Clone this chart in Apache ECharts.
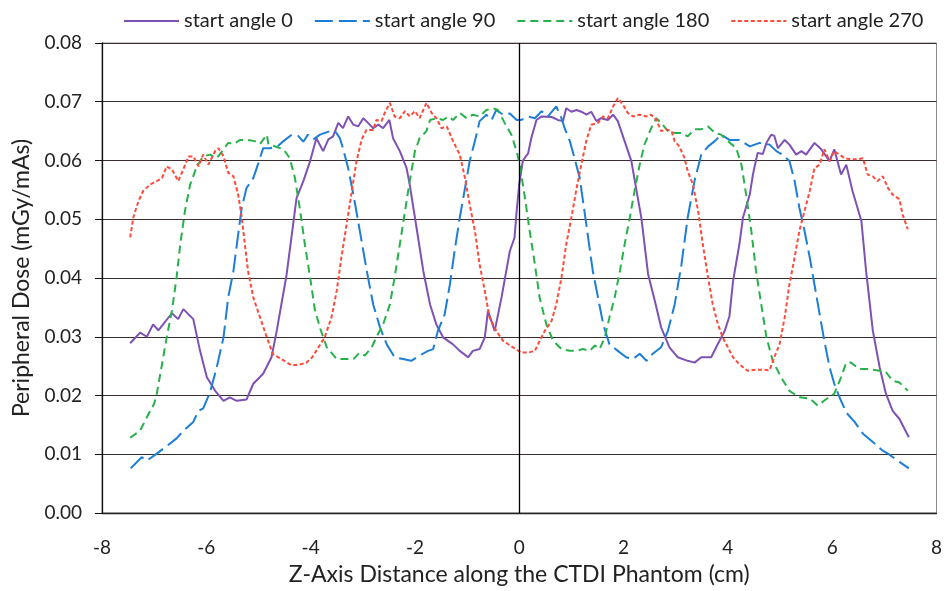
<!DOCTYPE html>
<html>
<head>
<meta charset="utf-8">
<script src="https://cdn.jsdelivr.net/npm/echarts@6/dist/echarts.min.js"></script>
<style>
html,body{margin:0;padding:0;background:#fff;}
#chart{width:945px;height:591px;}
</style>
</head>
<body>
<div id="chart"></div>
<script>
var seriesNames = ['start angle 0', 'start angle 90', 'start angle 180', 'start angle 270'];
var xTicks = [-8, -6, -4, -2, 0, 2, 4, 6, 8];
var yTicks = [0, 0.01, 0.02, 0.03, 0.04, 0.05, 0.06, 0.07, 0.08];

var angle0X = [-7.46,-7.27,-7.14,-7.02,-6.92,-6.66,-6.54,-6.44,-6.25,-6.12,-5.99,-5.83,-5.67,-5.55,-5.42,-5.23,-5.10,-4.91,-4.75,-4.65,-4.46,-4.27,-4.14,-4.01,-3.89,-3.76,-3.66,-3.57,-3.47,-3.38,-3.28,-3.18,-3.09,-2.99,-2.90,-2.80,-2.70,-2.61,-2.49,-2.42,-2.29,-2.16,-2.10,-1.97,-1.84,-1.71,-1.59,-1.46,-1.27,-1.14,-0.98,-0.89,-0.76,-0.66,-0.60,-0.47,-0.34,-0.18,-0.09,-0.05,0.00,0.07,0.17,0.23,0.33,0.43,0.62,0.74,0.84,0.90,1.00,1.10,1.19,1.29,1.38,1.48,1.57,1.70,1.80,1.89,2.02,2.15,2.25,2.34,2.47,2.60,2.72,2.88,3.04,3.23,3.36,3.49,3.68,3.81,3.94,4.03,4.10,4.22,4.29,4.42,4.48,4.57,4.67,4.74,4.83,4.89,4.96,5.09,5.18,5.31,5.41,5.50,5.66,5.79,5.95,6.04,6.17,6.27,6.39,6.56,6.65,6.78,6.91,7.03,7.16,7.29,7.47];
var angle0Y = [0.0289,0.0307,0.0300,0.0321,0.0311,0.0340,0.0330,0.0347,0.0330,0.0276,0.0231,0.0208,0.0191,0.0197,0.0191,0.0193,0.0220,0.0237,0.0265,0.0310,0.0406,0.0536,0.0565,0.0599,0.0638,0.0616,0.0636,0.0641,0.0664,0.0655,0.0675,0.0661,0.0658,0.0672,0.0664,0.0655,0.0661,0.0655,0.0669,0.0638,0.0616,0.0587,0.0559,0.0486,0.0412,0.0355,0.0321,0.0299,0.0287,0.0276,0.0265,0.0276,0.0279,0.0299,0.0344,0.0310,0.0367,0.0446,0.0469,0.0514,0.0560,0.0600,0.0612,0.0638,0.0669,0.0675,0.0674,0.0669,0.0667,0.0689,0.0683,0.0686,0.0683,0.0678,0.0683,0.0667,0.0672,0.0669,0.0678,0.0667,0.0633,0.0599,0.0548,0.0503,0.0407,0.0361,0.0316,0.0282,0.0265,0.0259,0.0256,0.0265,0.0265,0.0288,0.0310,0.0335,0.0395,0.0457,0.0503,0.0542,0.0576,0.0613,0.0611,0.0630,0.0644,0.0642,0.0621,0.0635,0.0627,0.0610,0.0616,0.0610,0.0630,0.0619,0.0599,0.0619,0.0576,0.0593,0.0548,0.0497,0.0412,0.0310,0.0248,0.0203,0.0174,0.0160,0.0129];

var angle90X = [-7.45,-7.24,-7.14,-6.95,-6.57,-6.44,-6.25,-6.15,-6.06,-5.93,-5.80,-5.67,-5.58,-5.48,-5.39,-5.32,-5.23,-5.10,-5.00,-4.91,-4.78,-4.65,-4.52,-4.36,-4.24,-4.14,-4.05,-3.95,-3.82,-3.63,-3.53,-3.44,-3.38,-3.28,-3.18,-3.09,-2.99,-2.90,-2.80,-2.67,-2.54,-2.39,-2.23,-2.07,-1.91,-1.75,-1.65,-1.56,-1.43,-1.33,-1.24,-1.14,-1.04,-0.95,-0.85,-0.76,-0.63,-0.53,-0.44,-0.31,-0.18,-0.05,0.04,0.17,0.30,0.43,0.55,0.71,0.81,0.87,0.97,1.06,1.16,1.25,1.32,1.41,1.51,1.61,1.73,1.89,2.05,2.18,2.31,2.44,2.56,2.72,2.85,2.98,3.11,3.23,3.36,3.49,3.62,3.75,3.87,4.03,4.22,4.42,4.61,4.80,4.93,5.05,5.18,5.28,5.37,5.47,5.57,5.66,5.76,5.85,5.95,6.04,6.14,6.27,6.43,6.59,6.78,6.97,7.07,7.29,7.47];
var angle90Y = [0.0076,0.0095,0.0089,0.0101,0.0127,0.0140,0.0155,0.0174,0.0178,0.0205,0.0248,0.0299,0.0367,0.0412,0.0474,0.0520,0.0553,0.0570,0.0596,0.0621,0.0621,0.0623,0.0633,0.0644,0.0642,0.0632,0.0644,0.0636,0.0644,0.0650,0.0650,0.0638,0.0621,0.0587,0.0542,0.0497,0.0446,0.0401,0.0355,0.0316,0.0287,0.0265,0.0262,0.0259,0.0268,0.0276,0.0279,0.0310,0.0338,0.0389,0.0446,0.0503,0.0553,0.0599,0.0633,0.0667,0.0678,0.0669,0.0686,0.0678,0.0680,0.0669,0.0669,0.0675,0.0672,0.0684,0.0675,0.0692,0.0672,0.0655,0.0633,0.0604,0.0570,0.0514,0.0469,0.0412,0.0367,0.0321,0.0287,0.0276,0.0265,0.0262,0.0271,0.0259,0.0271,0.0282,0.0310,0.0355,0.0423,0.0503,0.0565,0.0610,0.0624,0.0633,0.0644,0.0635,0.0635,0.0624,0.0630,0.0627,0.0616,0.0610,0.0599,0.0565,0.0520,0.0480,0.0435,0.0389,0.0338,0.0293,0.0248,0.0220,0.0197,0.0171,0.0155,0.0135,0.0121,0.0106,0.0101,0.0087,0.0076];

var angle180X = [-7.46,-7.27,-7.14,-7.00,-6.95,-6.85,-6.76,-6.66,-6.57,-6.50,-6.41,-6.31,-6.18,-6.06,-5.93,-5.80,-5.67,-5.58,-5.48,-5.35,-5.20,-5.07,-4.97,-4.84,-4.81,-4.65,-4.52,-4.40,-4.30,-4.20,-4.11,-4.01,-3.92,-3.82,-3.69,-3.50,-3.31,-3.18,-3.06,-2.96,-2.83,-2.74,-2.61,-2.48,-2.39,-2.29,-2.19,-2.10,-2.00,-1.91,-1.78,-1.71,-1.59,-1.46,-1.36,-1.27,-1.14,-1.01,-0.89,-0.76,-0.63,-0.50,-0.41,-0.28,-0.15,-0.09,-0.05,0.01,0.11,0.20,0.30,0.39,0.52,0.65,0.81,0.97,1.10,1.22,1.35,1.45,1.54,1.64,1.73,1.83,1.93,2.02,2.12,2.21,2.31,2.40,2.53,2.63,2.72,2.85,2.98,3.11,3.23,3.36,3.49,3.62,3.75,3.87,4.00,4.16,4.26,4.35,4.45,4.54,4.64,4.74,4.86,5.02,5.18,5.37,5.57,5.72,5.89,6.04,6.17,6.27,6.36,6.52,6.71,6.91,7.03,7.16,7.29,7.45];
var angle180Y = [0.0128,0.0140,0.0163,0.0186,0.0203,0.0253,0.0299,0.0344,0.0401,0.0457,0.0514,0.0559,0.0590,0.0607,0.0610,0.0604,0.0619,0.0630,0.0628,0.0635,0.0635,0.0633,0.0628,0.0644,0.0628,0.0623,0.0619,0.0604,0.0570,0.0514,0.0457,0.0401,0.0347,0.0315,0.0282,0.0262,0.0262,0.0262,0.0273,0.0268,0.0282,0.0299,0.0321,0.0355,0.0401,0.0457,0.0514,0.0565,0.0616,0.0638,0.0650,0.0669,0.0672,0.0669,0.0675,0.0669,0.0681,0.0672,0.0678,0.0675,0.0686,0.0689,0.0686,0.0664,0.0644,0.0627,0.0616,0.0593,0.0536,0.0480,0.0423,0.0367,0.0321,0.0293,0.0279,0.0276,0.0276,0.0279,0.0276,0.0285,0.0279,0.0299,0.0333,0.0367,0.0412,0.0457,0.0503,0.0548,0.0593,0.0627,0.0655,0.0672,0.0664,0.0650,0.0647,0.0647,0.0641,0.0653,0.0653,0.0658,0.0647,0.0644,0.0633,0.0621,0.0593,0.0542,0.0480,0.0412,0.0355,0.0299,0.0259,0.0231,0.0208,0.0197,0.0195,0.0183,0.0194,0.0203,0.0231,0.0256,0.0256,0.0245,0.0245,0.0242,0.0240,0.0225,0.0222,0.0208];

var angle270X = [-7.46,-7.40,-7.30,-7.21,-7.08,-6.95,-6.85,-6.76,-6.66,-6.54,-6.44,-6.34,-6.25,-6.15,-6.06,-5.96,-5.83,-5.77,-5.67,-5.58,-5.48,-5.39,-5.32,-5.26,-5.20,-5.10,-4.97,-4.84,-4.72,-4.56,-4.36,-4.20,-4.08,-3.97,-3.85,-3.73,-3.60,-3.50,-3.41,-3.31,-3.21,-3.12,-3.02,-2.93,-2.80,-2.74,-2.64,-2.58,-2.48,-2.39,-2.29,-2.19,-2.10,-2.00,-1.91,-1.78,-1.68,-1.59,-1.49,-1.39,-1.27,-1.14,-1.04,-0.95,-0.85,-0.76,-0.66,-0.57,-0.44,-0.31,-0.12,0.04,0.17,0.30,0.39,0.49,0.62,0.71,0.81,0.90,1.00,1.10,1.19,1.29,1.38,1.51,1.61,1.70,1.80,1.89,1.99,2.08,2.18,2.31,2.44,2.53,2.63,2.72,2.82,2.92,2.98,3.07,3.17,3.23,3.33,3.43,3.52,3.62,3.71,3.81,3.90,4.00,4.10,4.22,4.38,4.54,4.67,4.80,4.89,4.99,5.09,5.18,5.28,5.37,5.47,5.57,5.66,5.76,5.85,5.95,6.04,6.14,6.24,6.36,6.49,6.59,6.68,6.78,6.87,6.97,7.07,7.16,7.29,7.35,7.45];
var angle270Y = [0.0469,0.0503,0.0531,0.0548,0.0559,0.0565,0.0570,0.0590,0.0585,0.0565,0.0585,0.0607,0.0607,0.0590,0.0610,0.0593,0.0616,0.0621,0.0607,0.0579,0.0573,0.0542,0.0503,0.0457,0.0412,0.0367,0.0333,0.0299,0.0270,0.0262,0.0251,0.0253,0.0256,0.0265,0.0282,0.0299,0.0333,0.0378,0.0435,0.0491,0.0548,0.0599,0.0636,0.0652,0.0652,0.0669,0.0667,0.0681,0.0698,0.0675,0.0672,0.0684,0.0675,0.0684,0.0672,0.0698,0.0681,0.0672,0.0655,0.0658,0.0633,0.0610,0.0570,0.0525,0.0480,0.0423,0.0378,0.0333,0.0310,0.0293,0.0282,0.0273,0.0273,0.0276,0.0293,0.0310,0.0327,0.0355,0.0401,0.0457,0.0503,0.0553,0.0593,0.0635,0.0661,0.0664,0.0675,0.0672,0.0692,0.0706,0.0695,0.0681,0.0675,0.0678,0.0675,0.0678,0.0669,0.0650,0.0653,0.0650,0.0633,0.0624,0.0604,0.0582,0.0559,0.0514,0.0457,0.0401,0.0355,0.0321,0.0299,0.0282,0.0265,0.0253,0.0242,0.0244,0.0244,0.0243,0.0265,0.0287,0.0333,0.0389,0.0435,0.0480,0.0514,0.0548,0.0587,0.0593,0.0619,0.0599,0.0616,0.0610,0.0604,0.0602,0.0602,0.0604,0.0576,0.0573,0.0565,0.0573,0.0553,0.0542,0.0534,0.0508,0.0483];

function pairs(xs, ys) { return xs.map(function (x, i) { return [x, ys[i]]; }); }

var colors = ['#7e52b4', '#1c7ed6', '#27b14a', '#ff4a3a'];
var dashes = ['solid', [18, 6], [8, 5], [4, 2.5]];
var datasets = [pairs(angle0X, angle0Y), pairs(angle90X, angle90Y), pairs(angle180X, angle180Y), pairs(angle270X, angle270Y)];
var font = 'Lato, "Open Sans", sans-serif';

var series = seriesNames.map(function (name, i) {
  var s = {
    name: name,
    type: 'line',
    data: datasets[i],
    showSymbol: false,
    symbol: 'none',
    smooth: false,
    animation: false,
    z: 3,
    lineStyle: { color: colors[i], width: 2, type: dashes[i] },
    itemStyle: { color: colors[i] }
  };
  if (i === 0) {
    s.markLine = {
      silent: true,
      symbol: 'none',
      label: { show: false },
      lineStyle: { color: '#000', width: 1.3, type: 'solid' },
      data: [{ xAxis: 0 }]
    };
  }
  return s;
});

var chart = echarts.init(document.getElementById('chart'), null, { renderer: 'canvas' });
chart.setOption({
  backgroundColor: '#fff',
  animation: false,
  legend: {
    top: 6,
    left: 118,
    itemWidth: 55,
    itemHeight: 12,
    itemGap: 21,
    itemStyle: { opacity: 0 },
    textStyle: { fontFamily: font, fontSize: 20, color: '#222' },
    data: seriesNames
  },
  grid: {
    left: 102, right: 8, top: 43, bottom: 77,
    show: true, borderColor: '#8a8a8a', borderWidth: 1, backgroundColor: '#fff'
  },
  xAxis: {
    type: 'value', min: xTicks[0], max: xTicks[xTicks.length - 1], interval: 2,
    name: 'Z-Axis Distance along the CTDI Phantom (cm)',
    nameLocation: 'middle', nameGap: 50,
    nameTextStyle: { fontFamily: font, fontSize: 23, color: '#222' },
    axisLine: { show: true, onZero: false, lineStyle: { color: '#222', width: 1.3 } },
    axisTick: { show: false },
    axisLabel: { margin: 25, fontFamily: font, fontSize: 19, color: '#222' },
    splitLine: { show: false }
  },
  yAxis: {
    type: 'value', min: yTicks[0], max: yTicks[yTicks.length - 1], interval: 0.01,
    name: 'Peripheral Dose (mGy/mAs)',
    nameLocation: 'middle', nameGap: 68,
    nameTextStyle: { fontFamily: font, fontSize: 23, color: '#222' },
    axisLine: { show: true, onZero: false, lineStyle: { color: '#111', width: 1.3 } },
    axisTick: { show: true, inside: false, length: 7, lineStyle: { color: '#111' } },
    axisLabel: { margin: 20, fontFamily: font, fontSize: 19, color: '#222',
      formatter: function (v) { return v.toFixed(2); } },
    splitLine: { show: true, lineStyle: { color: '#3a2e2e', width: 1 } }
  },
  series: series
});
</script>
</body>
</html>
